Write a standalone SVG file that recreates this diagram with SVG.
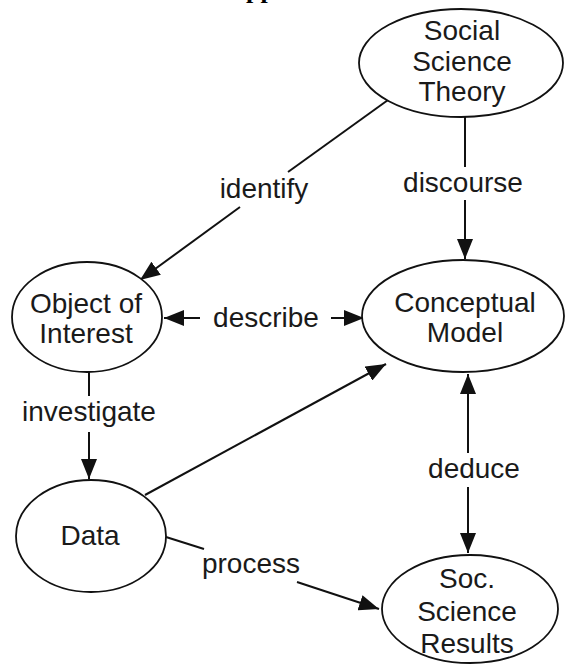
<svg xmlns="http://www.w3.org/2000/svg" width="565" height="664" viewBox="0 0 565 664">
<style>
.node ellipse{fill:#fff;stroke:#111;stroke-width:1.8}
.lbl{font-family:"Liberation Sans",Arial,sans-serif;font-size:28px;fill:#1a1a1a;text-anchor:middle}
.edge{stroke:#111;stroke-width:2;fill:none}
.title{font-family:"Liberation Serif","Times New Roman",serif;font-size:26px;font-weight:bold;fill:#000}
</style>
<defs>
<marker id="ah" viewBox="0 0 20 16" refX="20" refY="8" markerWidth="20" markerHeight="16" markerUnits="userSpaceOnUse" orient="auto-start-reverse">
<path d="M0,0 L20,8 L0,16 Z" fill="#111"/>
</marker>
</defs>
<rect width="565" height="664" fill="#fff"/>
<text class="title" x="246" y="-2">pp</text>
<g id="connectors">
<!-- identify -->
<line class="edge" x1="388" y1="100" x2="288" y2="172"/>
<line class="edge" x1="240" y1="207" x2="140" y2="280" marker-end="url(#ah)"/>
<text class="lbl" x="264" y="198">identify</text>
<!-- discourse -->
<line class="edge" x1="465" y1="117" x2="465" y2="167"/>
<line class="edge" x1="465" y1="200" x2="465" y2="259" marker-end="url(#ah)"/>
<text class="lbl" x="463" y="192">discourse</text>
<!-- describe -->
<line class="edge" x1="200" y1="318" x2="164" y2="318" marker-end="url(#ah)"/>
<line class="edge" x1="331" y1="318" x2="364" y2="318" marker-end="url(#ah)"/>
<text class="lbl" x="266" y="327">describe</text>
<!-- investigate -->
<line class="edge" x1="89" y1="372" x2="89" y2="396"/>
<line class="edge" x1="89" y1="432" x2="89" y2="479" marker-end="url(#ah)"/>
<text class="lbl" x="89" y="421">investigate</text>
<!-- data to conceptual -->
<line class="edge" x1="145" y1="495" x2="386" y2="364" marker-end="url(#ah)"/>
<!-- deduce -->
<line class="edge" x1="468" y1="453" x2="468" y2="374" marker-end="url(#ah)"/>
<line class="edge" x1="468" y1="487" x2="468" y2="553" marker-end="url(#ah)"/>
<text class="lbl" x="474" y="478">deduce</text>
<!-- process -->
<line class="edge" x1="166" y1="537" x2="204" y2="549"/>
<line class="edge" x1="297" y1="582" x2="379" y2="609" marker-end="url(#ah)"/>
<text class="lbl" x="251" y="573">process</text>
</g>
<g id="node-theory" class="node">
<ellipse cx="461" cy="63" rx="102" ry="54"/>
<text class="lbl" x="462" y="40">Social</text>
<text class="lbl" x="462" y="71">Science</text>
<text class="lbl" x="462" y="101">Theory</text>
</g>
<g id="node-object" class="node">
<ellipse cx="87" cy="317" rx="75" ry="55"/>
<text class="lbl" x="86" y="313">Object of</text>
<text class="lbl" x="86" y="343">Interest</text>
</g>
<g id="node-model" class="node">
<ellipse cx="463" cy="316" rx="101" ry="56"/>
<text class="lbl" x="465" y="312">Conceptual</text>
<text class="lbl" x="465" y="342">Model</text>
</g>
<g id="node-data" class="node">
<ellipse cx="91" cy="536" rx="75" ry="56"/>
<text class="lbl" x="90" y="545">Data</text>
</g>
<g id="node-results" class="node">
<ellipse cx="470" cy="609" rx="88" ry="54"/>
<text class="lbl" x="467" y="588">Soc.</text>
<text class="lbl" x="467" y="621">Science</text>
<text class="lbl" x="467" y="653">Results</text>
</g>
</svg>
